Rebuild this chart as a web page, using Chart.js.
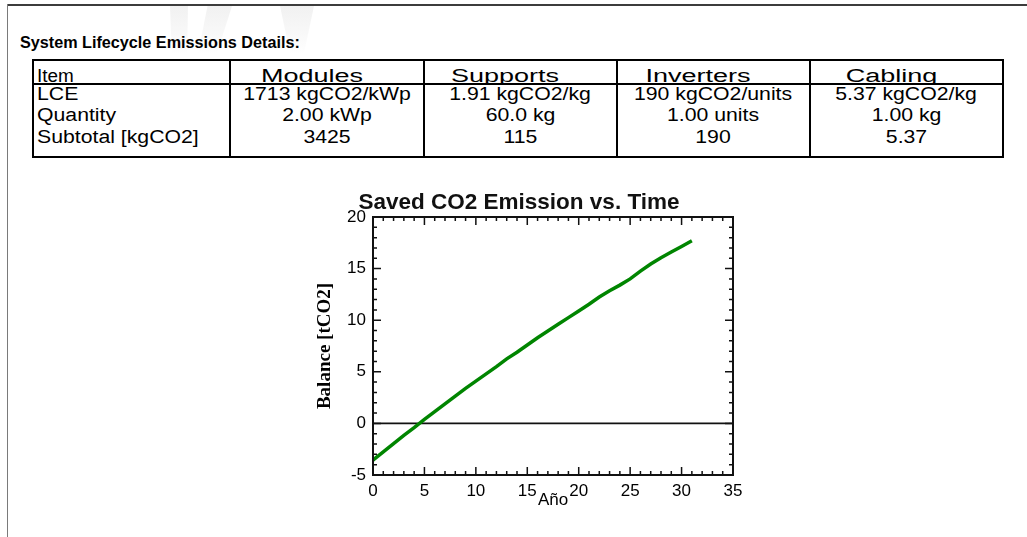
<!DOCTYPE html>
<html>
<head>
<meta charset="utf-8">
<script src="https://cdn.jsdelivr.net/npm/chart.js@4.4.1/dist/chart.umd.min.js"></script>
<style>
  html, body { margin: 0; padding: 0; background: #fff; width: 1027px; height: 537px; overflow: hidden; }
  body { position: relative; font-family: "Liberation Sans", Arial, sans-serif; color: #000; }
  .rule-top { position: absolute; left: 8px; top: 4px; width: 1019px; height: 2px; background: #3c3c3c; }
  .rule-left { position: absolute; left: 7px; top: 4px; width: 1px; height: 533px; background: #7a7a7a; }
  .mark { position: absolute; top: 6px; height: 48px; background: linear-gradient(#f1f1f1, #f8f8f8 55%, #fff); }
  .mark.a { left: 170px; width: 18px; clip-path: polygon(0 0, 100% 0, 95% 100%, 10% 100%); }
  .mark.b { left: 198px; width: 34px; clip-path: polygon(28% 0, 100% 0, 55% 100%, 0 100%); }
  .mark.c { left: 280px; width: 34px; clip-path: polygon(0 0, 100% 0, 70% 100%, 30% 100%); }
  .heading { position: absolute; left: 20px; top: 32px; margin: 0; font: bold 16.2px "Liberation Sans", Arial, sans-serif; line-height: 20px; white-space: nowrap; }
  .tbl { position: absolute; left: 32px; top: 59px; width: 972px; height: 99px; box-sizing: border-box; border: 2px solid #000; }
  .hline { position: absolute; left: 32px; width: 972px; height: 2px; background: #000; }
  .vline { position: absolute; top: 59px; width: 2px; height: 99px; background: #000; }
  .head-clip { position: absolute; left: 34px; top: 61px; width: 968px; height: 22px; overflow: hidden; }
  .cell { position: absolute; font-size: 18px; line-height: 20px; height: 20px; white-space: nowrap; }
  .cell span { display: inline-block; }
  #chartBox { position: absolute; left: 305px; top: 180px; width: 455px; height: 340px; }
</style>
</head>
<body>
<div class="mark a"></div><div class="mark b"></div><div class="mark c"></div>
<div class="rule-top"></div>
<div class="rule-left"></div>
<div class="heading">System Lifecycle Emissions Details:</div>
<div id="table"></div>
<div id="chartBox"><canvas id="chart" width="455" height="340"></canvas></div>

<script>
// ---- Lifecycle emissions table ----
const tableHeaders = ['Item', 'Modules', 'Supports', 'Inverters', 'Cabling'];
const rowLCE = ['LCE', '1713 kgCO2/kWp', '1.91 kgCO2/kg', '190 kgCO2/units', '5.37 kgCO2/kg'];
const rowQuantity = ['Quantity', '2.00 kWp', '60.0 kg', '1.00 units', '1.00 kg'];
const rowSubtotal = ['Subtotal [kgCO2]', '3425', '115', '190', '5.37'];

// ---- Saved CO2 balance over time ----
const years = [0, 1, 2, 3, 4, 5, 6, 7, 8, 9, 10, 11, 12, 13, 14, 15,
               16, 17, 18, 19, 20, 21, 22, 23, 24, 25, 26, 27, 28, 29, 30, 31];
const balance = [-3.55, -2.75, -1.95, -1.15, -0.4, 0.4, 1.15, 1.9, 2.65, 3.4, 4.1, 4.8,
                 5.5, 6.25, 6.9, 7.6, 8.3, 8.95, 9.6, 10.25, 10.9, 11.55, 12.25, 12.85,
                 13.4, 14.0, 14.75, 15.45, 16.05, 16.6, 17.15, 17.7];
const xTicks = [0, 5, 10, 15, 20, 25, 30, 35];
const yTicks = [-5, 0, 5, 10, 15, 20];

// table layout
const colEdges = [33, 230, 423.5, 617, 810, 1003];
const rowBaselines = [100.5, 121.5, 143];
const headBaseline = 82.3;
const headScale = 1.5, bodyScale = 1.18;
const ascent = 16.2; // baseline offset inside an 18px / 20px line box

(function buildTable() {
  const root = document.getElementById('table');
  let html = '<div class="tbl"></div><div class="hline" style="top:82.5px"></div>';
  for (let i = 1; i < colEdges.length - 1; i++) {
    html += '<div class="vline" style="left:' + (colEdges[i] - 1) + 'px"></div>';
  }
  // header row, clipped by the rule beneath it
  html += '<div class="head-clip">';
  tableHeaders.forEach((h, i) => {
    const top = headBaseline - ascent - 61;
    if (i === 0) {
      html += '<div class="cell" style="left:' + (colEdges[0] + 4 - 34) + 'px;top:' + top + 'px"><span style="transform:scaleX(1.05);transform-origin:left">' + h + '</span></div>';
    } else {
      const c = (colEdges[i] + colEdges[i + 1]) / 2 - 15 - 34;
      html += '<div class="cell" style="left:' + (c - 100) + 'px;width:200px;text-align:center;top:' + top + 'px"><span style="transform:scaleX(' + headScale + ')">' + h + '</span></div>';
    }
  });
  html += '</div>';
  [rowLCE, rowQuantity, rowSubtotal].forEach((row, r) => {
    const top = rowBaselines[r] - ascent;
    row.forEach((t, i) => {
      if (i === 0) {
        html += '<div class="cell" style="left:' + (colEdges[0] + 4) + 'px;top:' + top + 'px"><span style="transform:scaleX(' + bodyScale + ');transform-origin:left">' + t + '</span></div>';
      } else {
        const c = (colEdges[i] + colEdges[i + 1]) / 2;
        html += '<div class="cell" style="left:' + (c - 100) + 'px;width:200px;text-align:center;top:' + top + 'px"><span style="transform:scaleX(' + bodyScale + ')">' + t + '</span></div>';
      }
    });
  });
  root.innerHTML = html;
})();

// ---- chart ----
Chart.defaults.font.family = '"Liberation Sans", Arial, sans-serif';
Chart.defaults.color = '#000';

const majorStep = 5, minorStep = 1;

// zero reference line, boxed plot frame and inward major/minor ticks on all four sides
const plotFrame = {
  id: 'plotFrame',
  beforeDatasetsDraw(chart) {
    const { ctx, chartArea: a, scales: { y } } = chart;
    const yz = y.getPixelForValue(0);
    ctx.save();
    ctx.strokeStyle = '#111';
    ctx.lineWidth = 1.6;
    ctx.beginPath();
    ctx.moveTo(a.left, yz);
    ctx.lineTo(a.right, yz);
    ctx.stroke();
    ctx.restore();
  },
  afterDraw(chart) {
    const { ctx, chartArea: a, scales: { x, y } } = chart;
    ctx.save();
    ctx.strokeStyle = '#111';
    ctx.lineWidth = 1.5;
    ctx.beginPath();
    for (let v = x.min; v <= x.max; v += minorStep) {
      const px = x.getPixelForValue(v);
      const len = v % majorStep === 0 ? 8 : 4;
      ctx.moveTo(px, a.bottom); ctx.lineTo(px, a.bottom - len);
      ctx.moveTo(px, a.top); ctx.lineTo(px, a.top + len);
    }
    for (let v = y.min; v <= y.max; v += minorStep) {
      const py = y.getPixelForValue(v);
      const len = v % majorStep === 0 ? 8 : 4;
      ctx.moveTo(a.left, py); ctx.lineTo(a.left + len, py);
      ctx.moveTo(a.right, py); ctx.lineTo(a.right - len, py);
    }
    ctx.stroke();
    ctx.lineWidth = 2;
    ctx.strokeRect(a.left, a.top, a.right - a.left, a.bottom - a.top);
    ctx.restore();
  }
};

new Chart(document.getElementById('chart'), {
  type: 'line',
  data: {
    datasets: [{
      data: years.map((yr, i) => ({ x: yr, y: balance[i] })),
      borderColor: '#008500',
      borderWidth: 3.5,
      pointRadius: 0,
      tension: 0,
      fill: false
    }]
  },
  options: {
    responsive: false,
    devicePixelRatio: 1,
    animation: false,
    layout: { padding: { left: 0, right: 27, top: 0, bottom: 0 } },
    plugins: {
      legend: { display: false },
      tooltip: { enabled: false },
      title: {
        display: true,
        text: 'Saved CO2 Emission vs. Time',
        color: '#111',
        font: { size: 22.5, weight: 'bold' },
        padding: { top: 9.5, bottom: 0.5 }
      }
    },
    scales: {
      x: {
        type: 'linear',
        min: 0,
        max: 35,
        afterBuildTicks: s => { s.ticks = xTicks.map(v => ({ value: v })); },
        afterFit: s => { s.height = 45; },
        grid: { display: false, drawTicks: false },
        border: { display: false },
        ticks: { padding: 6, font: { size: 17 }, maxRotation: 0, autoSkip: false, callback: v => String(v) },
        title: { display: true, text: 'Año', font: { size: 17 }, padding: { top: 0, bottom: 9 } }
      },
      y: {
        type: 'linear',
        min: -5,
        max: 20,
        afterBuildTicks: s => { s.ticks = yTicks.map(v => ({ value: v })); },
        afterFit: s => { s.width = 68; },
        grid: { display: false, drawTicks: false },
        border: { display: false },
        ticks: { padding: 7, font: { size: 17 }, autoSkip: false, callback: v => String(v) },
        title: {
          display: true,
          text: 'Balance [tCO2]',
          font: { family: '"Liberation Serif", "Times New Roman", serif', size: 19, weight: 'bold' },
          padding: { top: 8.6, bottom: 0 }
        }
      }
    }
  },
  plugins: [plotFrame]
});
</script>
</body>
</html>
